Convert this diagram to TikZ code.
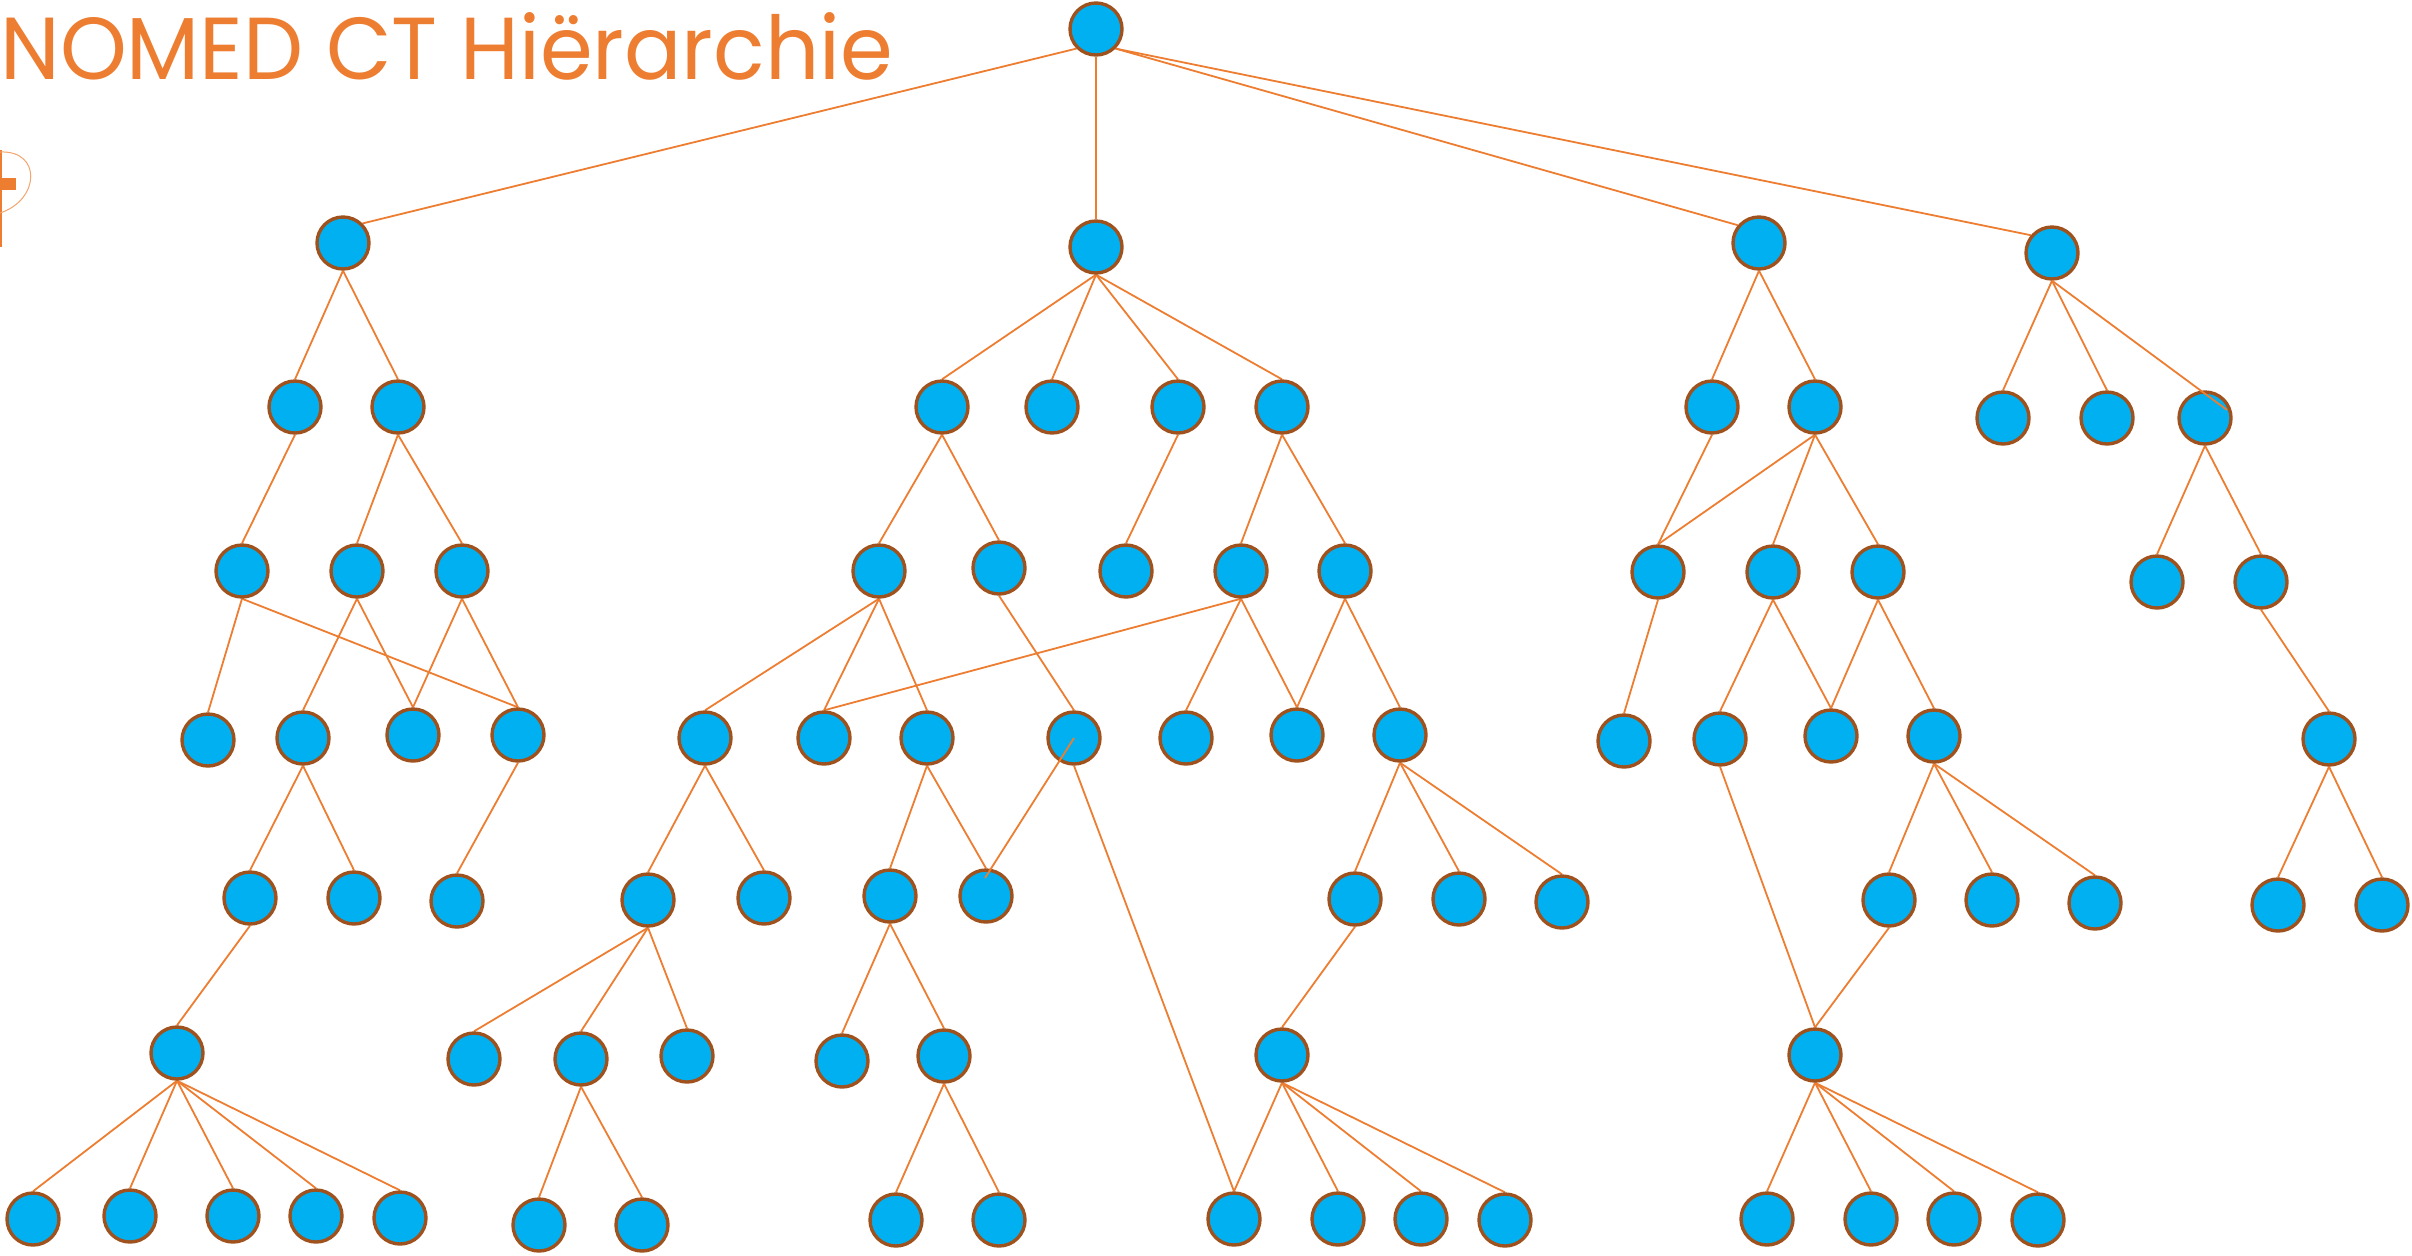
\documentclass[tikz,border=0pt]{standalone}
\usepackage{fontspec}
\setmainfont{Poppins}
\usetikzlibrary{shapes.geometric,backgrounds}
\definecolor{nodefill}{HTML}{00B0F0}
\definecolor{nodeline}{HTML}{A0521E}
\definecolor{edgecol}{HTML}{ED7D31}
\definecolor{titlecol}{HTML}{ED7D31}
\begin{document}
\begin{tikzpicture}[x=0.5pt,y=-0.5pt,
  conc/.style={circle, fill=nodefill, draw=nodeline, line width=1.7pt, minimum size=26pt, inner sep=0pt},
  link/.style={draw=edgecol, line width=0.9pt}]
\useasboundingbox (0,0) rectangle (2412,1255);
% title
\node[anchor=base west, inner sep=0pt, text=titlecol, font=\fontsize{44}{44}\selectfont] (title) at (0,79) {\scalebox{0.965}[1]{NOMED CT Hiërarchie}};
% partial logo
\fill[titlecol] (0,178) rectangle (16,190);
\draw[titlecol, line width=0.8pt] (1,150) -- (1,247);
\draw[titlecol!70, line width=0.5pt] (0,152) .. controls (42,150) and (40,200) .. (0,213);
% nodes
\foreach \n/\x/\y in {R/1096/29,
  A/343/243, B/1096/247, C/1759/243, D/2052/253,
  a1/295/407, a2/398/407, a11/242/571, a21/357/571, a22/462/571,
  a4a/208/740, a4b/303/738, a4c/413/735, a4d/518/735,
  a5a/250/898, a5b/354/898, a5c/457/901, a6/177/1053,
  a7a/33/1219, a7b/130/1216, a7c/233/1216, a7d/316/1216, a7e/400/1218,
  b1/942/407, b2/1052/407, b3/1178/407, b4/1282/407,
  b11/879/571, b12/999/568, b31/1126/571, b41/1241/571, b42/1345/571,
  b4a/705/738, b4b/824/738, b4c/927/738, b4d/1074/738, b4e/1186/738, b4f/1297/735, b4g/1400/735,
  b5a/648/900, b5b/764/898, b5c/890/896, b5d/986/896, b5e/1355/899, b5f/1459/899, b5g/1562/902,
  b6a/474/1059, b6b/581/1059, b6c/687/1056, b6d/842/1061, b6e/944/1056, b6f/1282/1055,
  b7a/539/1225, b7b/642/1225, b7c/896/1220, b7d/999/1220, b7e/1234/1219, b7f/1338/1219, b7g/1421/1219, b7h/1505/1220,
  c1/1712/407, c2/1815/407, c11/1658/572, c21/1773/572, c22/1878/572,
  c4a/1624/741, c4b/1720/739, c4c/1831/736, c4d/1934/736,
  c5a/1889/900, c5b/1992/900, c5c/2095/903, c6/1815/1055,
  c7a/1767/1219, c7b/1871/1219, c7c/1954/1219, c7d/2038/1220,
  d1/2003/418, d2/2107/418, d3/2205/418, d31/2157/582, d32/2261/582,
  d4/2329/739, d5a/2278/905, d5b/2382/905}
  \node[conc] (\n) at (\x,\y) {};
\begin{pgfonlayer}{background}
\draw[link] (R.-135) -- (A.45);
\draw[link] (R.south) -- (B.north);
\draw[link] (R.-45) -- (C.140);
\draw[link] (R.-45) -- (D.140);
\foreach \p/\c in {A/a1, A/a2, a1/a11, a2/a21, a2/a22, a11/a4a, a11/a4d, a21/a4b, a21/a4c, a22/a4c, a22/a4d,
  a4b/a5a, a4b/a5b, a4d/a5c, a5a/a6, a6/a7a, a6/a7b, a6/a7c, a6/a7d, a6/a7e,
  B/b1, B/b2, B/b3, B/b4, b1/b11, b1/b12, b3/b31, b4/b41, b4/b42,
  b11/b4a, b11/b4b, b11/b4c, b12/b4d, b41/b4b, b41/b4e, b41/b4f, b42/b4f, b42/b4g,
  b4a/b5a, b4a/b5b, b4c/b5c, b4c/b5d, b4d/b7e, b4g/b5e, b4g/b5f, b4g/b5g,
  b5a/b6a, b5a/b6b, b5a/b6c, b5c/b6d, b5c/b6e, b5e/b6f,
  b6b/b7a, b6b/b7b, b6e/b7c, b6e/b7d, b6f/b7e, b6f/b7f, b6f/b7g, b6f/b7h,
  C/c1, C/c2, c1/c11, c2/c11, c2/c21, c2/c22, c11/c4a, c21/c4b, c21/c4c, c22/c4c, c22/c4d,
  c4b/c6, c4d/c5a, c4d/c5b, c4d/c5c, c5a/c6, c6/c7a, c6/c7b, c6/c7c, c6/c7d,
  D/d1, D/d2, d3/d31, d3/d32, d32/d4, d4/d5a, d4/d5b}
  \draw[link] (\p.south) -- (\c.north);
\end{pgfonlayer}
% connectors drawn over the nodes, as in the reference
\coordinate (d3in) at (2227,410);
\coordinate (b5din) at (985,878);
\draw[link] (D.south) -- (d3in);
\draw[link] (b4d.center) -- (b5din);
\end{tikzpicture}
\end{document}
